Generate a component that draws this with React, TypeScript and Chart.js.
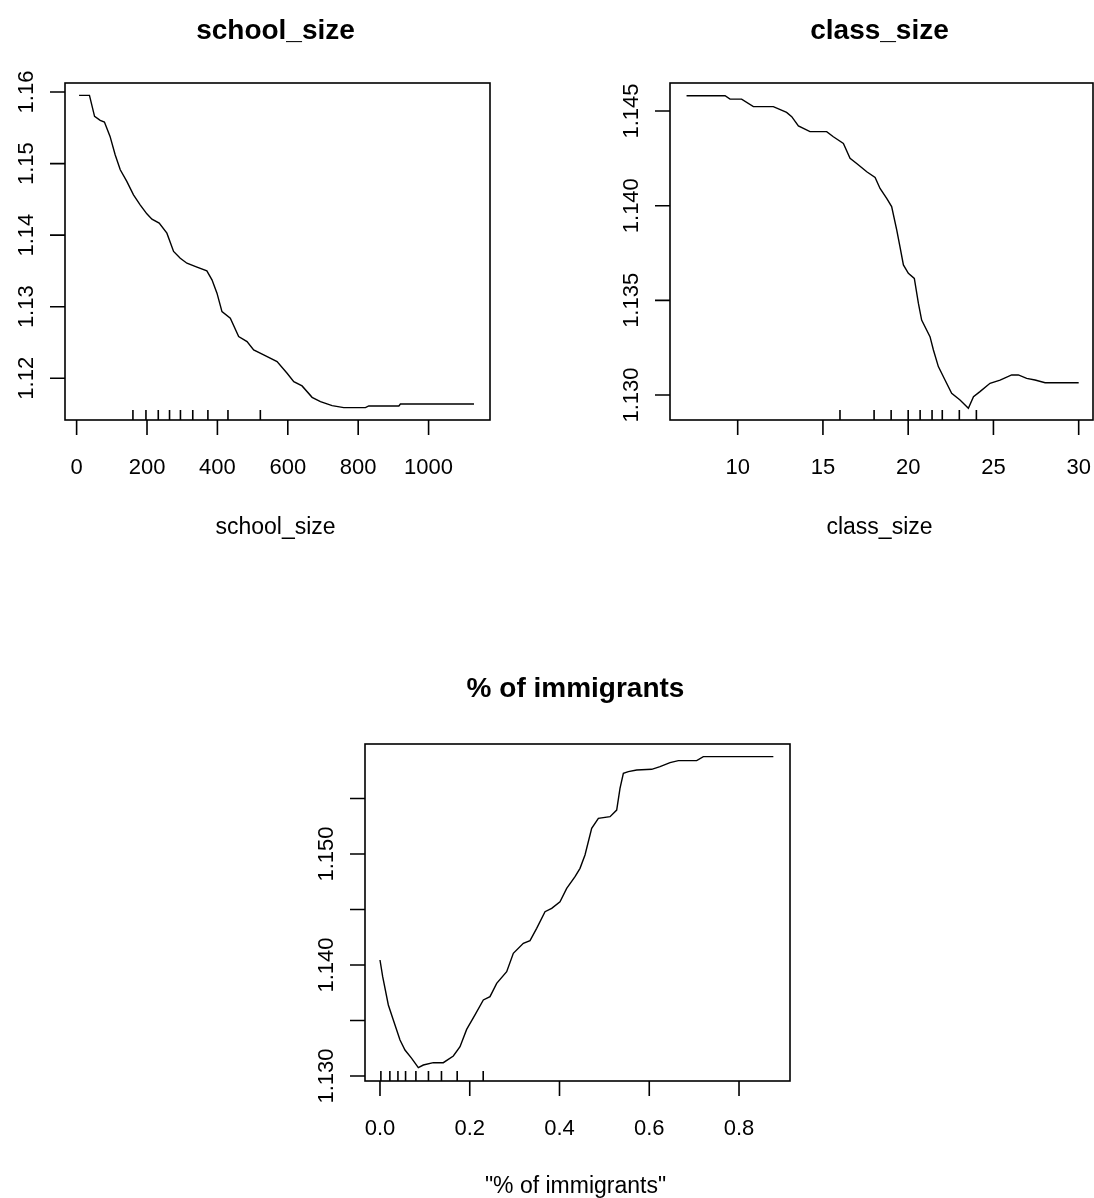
import React, { useEffect, useRef } from "react";
import { Chart, registerables } from "chart.js";

Chart.register(...registerables);

// ---------- DATA ----------
const schoolSizeX = [7, 36.5, 51, 67, 79, 95, 109.5, 124, 142.6, 161.6, 180.5, 199.5, 214, 234.6, 256.5, 275.5, 294.5, 313.4, 342, 370, 384.6, 398.8, 413, 436.7, 460.4, 484.2, 503, 531.5, 569.5, 598, 617, 640.6, 669, 692.8, 726, 759, 820.6, 830, 915.6, 920, 1129];
const schoolSizeY = [1.15953, 1.15953, 1.1566, 1.15604, 1.1558, 1.1538, 1.15124, 1.14914, 1.14751, 1.14564, 1.14424, 1.14298, 1.14224, 1.14168, 1.14028, 1.13772, 1.13678, 1.13608, 1.13552, 1.135, 1.13375, 1.13189, 1.12932, 1.12839, 1.12583, 1.12513, 1.12396, 1.12326, 1.12233, 1.1207, 1.11953, 1.11893, 1.11734, 1.11674, 1.11618, 1.1159, 1.1159, 1.11613, 1.11613, 1.11641, 1.11641];
const schoolSizeRug = [160, 197, 232, 264, 295, 330, 373, 430, 522];
const schoolSizeXTicks = [0, 200, 400, 600, 800, 1000];
const schoolSizeYTicks = [1.12, 1.13, 1.14, 1.15, 1.16];
const schoolSizeYLabels = ["1.12", "1.13", "1.14", "1.15", "1.16"];

const classSizeX = [7, 9.26, 9.55, 10.23, 10.92, 12.09, 12.87, 13.17, 13.56, 14.24, 15.22, 15.61, 16.2, 16.59, 16.98, 17.57, 18.06, 18.35, 18.74, 19.03, 19.33, 19.52, 19.72, 20.01, 20.36, 20.6, 20.79, 21.28, 21.48, 21.77, 22.16, 22.55, 23.04, 23.53, 23.83, 24.21, 24.8, 25.39, 26.07, 26.46, 26.95, 27.44, 28.03, 30];
const classSizeY = [1.14581, 1.14581, 1.14563, 1.14563, 1.14523, 1.14523, 1.14493, 1.1447, 1.14421, 1.14391, 1.14391, 1.14364, 1.14329, 1.1425, 1.14223, 1.14179, 1.14149, 1.14091, 1.14039, 1.13995, 1.13871, 1.13783, 1.13687, 1.13643, 1.13616, 1.13484, 1.13396, 1.13308, 1.13238, 1.1315, 1.13079, 1.13009, 1.12974, 1.1293, 1.12991, 1.13018, 1.13062, 1.13079, 1.13106, 1.13106, 1.13088, 1.13079, 1.13065, 1.13065];
const classSizeRug = [16, 18, 19, 20, 20.7, 21.4, 22, 23, 24];
const classSizeXTicks = [10, 15, 20, 25, 30];
const classSizeYTicks = [1.13, 1.135, 1.14, 1.145];
const classSizeYLabels = ["1.130", "1.135", "1.140", "1.145"];

const immigrantsX = [0, 0.006, 0.0186, 0.0297, 0.0446, 0.0557, 0.0706, 0.0854, 0.0966, 0.1188, 0.1411, 0.1634, 0.1783, 0.1931, 0.2117, 0.2303, 0.2451, 0.26, 0.2823, 0.2971, 0.3194, 0.3343, 0.3491, 0.3677, 0.3826, 0.4011, 0.416, 0.4346, 0.4457, 0.4568, 0.4717, 0.4866, 0.5126, 0.5274, 0.5348, 0.5423, 0.5534, 0.572, 0.6054, 0.624, 0.6463, 0.6648, 0.7057, 0.7205, 0.8765];
const immigrantsY = [1.14045, 1.13895, 1.1364, 1.13505, 1.13324, 1.13234, 1.13159, 1.13075, 1.13099, 1.1312, 1.1312, 1.1318, 1.13264, 1.1342, 1.1355, 1.13685, 1.13715, 1.13835, 1.1394, 1.14105, 1.14195, 1.14219, 1.1433, 1.1448, 1.1451, 1.1457, 1.1469, 1.14796, 1.14871, 1.14991, 1.15231, 1.15321, 1.15336, 1.15396, 1.15592, 1.15727, 1.15742, 1.15757, 1.15763, 1.15787, 1.15823, 1.15841, 1.15841, 1.15877, 1.15877];
const immigrantsRug = [0.002, 0.022, 0.04, 0.057, 0.08, 0.108, 0.137, 0.172, 0.23];
const immigrantsXTicks = [0, 0.2, 0.4, 0.6, 0.8];
const immigrantsXLabels = ["0.0", "0.2", "0.4", "0.6", "0.8"];
const immigrantsYTicks = [1.13, 1.135, 1.14, 1.145, 1.15, 1.155];
const immigrantsYLabels = ["1.130", "", "1.140", "", "1.150", ""];

// ---------- LAYOUT ----------
type PanelSpec = {
  title: string;
  xLabel: string;
  xs: number[];
  ys: number[];
  rug: number[];
  xTicks: number[];
  xTickLabels: string[];
  yTicks: number[];
  yTickLabels: string[];
  xMin: number;
  xMax: number;
  yMin: number;
  yMax: number;
  canvas: { left: number; top: number; w: number; h: number };
  pad: { left: number; top: number; right: number; bottom: number };
  titleOff: number;
  xLabelOff: number;
};

const panels: PanelSpec[] = [
  {
    title: "school_size",
    xLabel: "school_size",
    xs: schoolSizeX,
    ys: schoolSizeY,
    rug: schoolSizeRug,
    xTicks: schoolSizeXTicks,
    xTickLabels: schoolSizeXTicks.map(String),
    yTicks: schoolSizeYTicks,
    yTickLabels: schoolSizeYLabels,
    xMin: -33,
    xMax: 1174.5,
    yMin: 1.11417,
    yMax: 1.16126,
    canvas: { left: 0, top: 0, w: 547, h: 599 },
    pad: { left: 65, top: 83, right: 57, bottom: 179 },
    titleOff: 44,
    xLabelOff: 114,
  },
  {
    title: "class_size",
    xLabel: "class_size",
    xs: classSizeX,
    ys: classSizeY,
    rug: classSizeRug,
    xTicks: classSizeXTicks,
    xTickLabels: classSizeXTicks.map(String),
    yTicks: classSizeYTicks,
    yTickLabels: classSizeYLabels,
    xMin: 6.03,
    xMax: 30.84,
    yMin: 1.12868,
    yMax: 1.14648,
    canvas: { left: 547, top: 0, w: 547, h: 599 },
    pad: { left: 123, top: 83, right: 1, bottom: 179 },
    titleOff: 44,
    xLabelOff: 114,
  },
  {
    title: "% of immigrants",
    xLabel: "\"% of immigrants\"",
    xs: immigrantsX,
    ys: immigrantsY,
    rug: immigrantsRug,
    xTicks: immigrantsXTicks,
    xTickLabels: immigrantsXLabels,
    yTicks: immigrantsYTicks,
    yTickLabels: immigrantsYLabels,
    xMin: -0.0334,
    xMax: 0.9136,
    yMin: 1.12955,
    yMax: 1.15991,
    canvas: { left: 0, top: 599, w: 1094, h: 599 },
    pad: { left: 365, top: 145, right: 304, bottom: 117 },
    titleOff: 47,
    xLabelOff: 112,
  },
];

const FONT = '"Liberation Sans", Arial, Helvetica, sans-serif';

const rAxesPlugin = {
  id: "rAxes",
  afterDraw(chart: any, _args: any, opts: any) {
    const spec: PanelSpec = opts.spec;
    const { ctx, chartArea: a } = chart;
    const xs = chart.scales.x;
    const ys = chart.scales.y;
    ctx.save();
    ctx.strokeStyle = "#000";
    ctx.fillStyle = "#000";
    ctx.lineWidth = 1.6;
    ctx.strokeRect(a.left, a.top, a.right - a.left, a.bottom - a.top);

    ctx.beginPath();
    spec.xTicks.forEach((v) => {
      const px = xs.getPixelForValue(v);
      ctx.moveTo(px, a.bottom);
      ctx.lineTo(px, a.bottom + 15);
    });
    spec.yTicks.forEach((v) => {
      const py = ys.getPixelForValue(v);
      ctx.moveTo(a.left, py);
      ctx.lineTo(a.left - 15, py);
    });
    spec.rug.forEach((v) => {
      const px = xs.getPixelForValue(v);
      ctx.moveTo(px, a.bottom);
      ctx.lineTo(px, a.bottom - 10);
    });
    ctx.stroke();

    ctx.font = `22px ${FONT}`;
    ctx.textAlign = "center";
    ctx.textBaseline = "alphabetic";
    spec.xTicks.forEach((v, i) => {
      ctx.fillText(spec.xTickLabels[i], xs.getPixelForValue(v), a.bottom + 53.5);
    });
    spec.yTicks.forEach((v, i) => {
      const lab = spec.yTickLabels[i];
      if (!lab) return;
      ctx.save();
      ctx.translate(a.left - 32, ys.getPixelForValue(v));
      ctx.rotate(-Math.PI / 2);
      ctx.fillText(lab, 0, 0);
      ctx.restore();
    });

    const cx = (a.left + a.right) / 2 - 2;
    ctx.font = `23px ${FONT}`;
    ctx.fillText(spec.xLabel, cx, a.bottom + spec.xLabelOff);
    ctx.font = `bold 28px ${FONT}`;
    ctx.fillText(spec.title, cx, a.top - spec.titleOff);
    ctx.restore();
  },
};

function Panel({ spec }: { spec: PanelSpec }) {
  const ref = useRef<HTMLCanvasElement | null>(null);
  useEffect(() => {
    if (!ref.current) return;
    const chart = new Chart(ref.current, {
      type: "line",
      data: {
        datasets: [
          {
            data: spec.xs.map((x, i) => ({ x, y: spec.ys[i] })),
            borderColor: "#000",
            borderWidth: 1.4,
            pointRadius: 0,
            tension: 0,
            fill: false,
          },
        ],
      },
      options: {
        responsive: false,
        animation: false,
        devicePixelRatio: 1,
        layout: { padding: spec.pad },
        scales: {
          x: { type: "linear", min: spec.xMin, max: spec.xMax, display: false },
          y: { type: "linear", min: spec.yMin, max: spec.yMax, display: false },
        },
        plugins: {
          legend: { display: false },
          tooltip: { enabled: false },
          rAxes: { spec },
        } as any,
      },
      plugins: [rAxesPlugin],
    });
    return () => chart.destroy();
  }, [spec]);
  return (
    <canvas
      ref={ref}
      width={spec.canvas.w}
      height={spec.canvas.h}
      style={{
        position: "absolute",
        left: spec.canvas.left,
        top: spec.canvas.top,
        width: spec.canvas.w,
        height: spec.canvas.h,
      }}
    />
  );
}

export default function App() {
  return (
    <div
      style={{
        position: "absolute",
        left: 0,
        top: 0,
        width: 1094,
        height: 1198,
        background: "#fff",
        overflow: "hidden",
      }}
    >
      {panels.map((p, i) => (
        <Panel key={i} spec={p} />
      ))}
    </div>
  );
}
